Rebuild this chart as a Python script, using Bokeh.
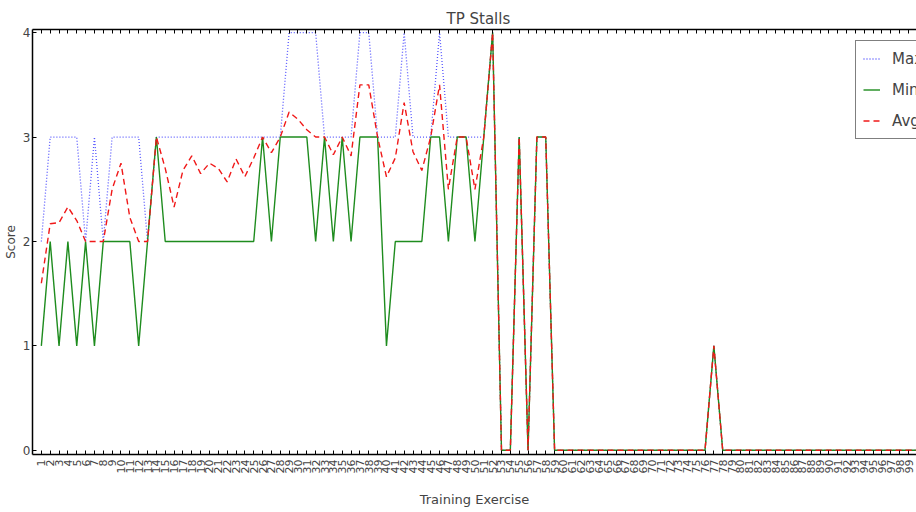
from bokeh.plotting import figure
from bokeh.models import (FixedTicker, LinearAxis, Range1d, Legend, LegendItem,
                          CustomLabelingPolicy)
from bokeh.embed import file_html
from bokeh.resources import INLINE
import math

exercise = list(range(1, 101))

max_score = [2, 3, 3, 3, 3, 2, 3, 2, 3, 3,
             3, 3, 2, 3, 3, 3, 3, 3, 3, 3,
             3, 3, 3, 3, 3, 3, 3, 3, 4, 4,
             4, 4, 3, 3, 3, 3, 4, 4, 3, 3,
             3, 4, 3, 3, 3, 4, 3, 3, 3, 3,
             3, 4, 0, 0, 3, 0, 3, 3, 0, 0,
             0, 0, 0, 0, 0, 0, 0, 0, 0, 0,
             0, 0, 0, 0, 0, 0, 1, 0, 0, 0,
             0, 0, 0, 0, 0, 0, 0, 0, 0, 0,
             0, 0, 0, 0, 0, 0, 0, 0, 0, 0]

min_score = [1, 2, 1, 2, 1, 2, 1, 2, 2, 2,
             2, 1, 2, 3, 2, 2, 2, 2, 2, 2,
             2, 2, 2, 2, 2, 3, 2, 3, 3, 3,
             3, 2, 3, 2, 3, 2, 3, 3, 3, 1,
             2, 2, 2, 2, 3, 3, 2, 3, 3, 2,
             3, 4, 0, 0, 3, 0, 3, 3, 0, 0,
             0, 0, 0, 0, 0, 0, 0, 0, 0, 0,
             0, 0, 0, 0, 0, 0, 1, 0, 0, 0,
             0, 0, 0, 0, 0, 0, 0, 0, 0, 0,
             0, 0, 0, 0, 0, 0, 0, 0, 0, 0]

avg_score = [1.6, 2.17, 2.18, 2.33, 2.2, 2.0, 2.0, 2.0, 2.5, 2.75,
             2.23, 2.0, 2.0, 3.0, 2.7, 2.33, 2.68, 2.82, 2.65, 2.75,
             2.7, 2.57, 2.79, 2.62, 2.8, 3.0, 2.85, 3.0, 3.24, 3.17,
             3.07, 3.0, 3.0, 2.83, 3.0, 2.82, 3.5, 3.5, 3.0, 2.62,
             2.8, 3.33, 2.86, 2.68, 3.0, 3.5, 2.5, 3.0, 3.0, 2.5,
             3.0, 4.0, 0, 0, 3.0, 0, 3.0, 3.0, 0, 0,
             0, 0, 0, 0, 0, 0, 0, 0, 0, 0,
             0, 0, 0, 0, 0, 0, 1.0, 0, 0, 0,
             0, 0, 0, 0, 0, 0, 0, 0, 0, 0,
             0, 0, 0, 0, 0, 0, 0, 0, 0, 0]

y_ticks = [0, 1, 2, 3, 4]

FONT = "DejaVu Sans"

p = figure(width=916, height=512, output_backend="svg", toolbar_location=None,
           x_range=Range1d(0, 99.9), y_range=Range1d(-0.04, 4.03),
           title="TP Stalls", min_border_left=25, min_border_right=0,
           min_border_top=29, min_border_bottom=58)
p.outline_line_color = None
p.background_fill_color = "white"
p.border_fill_color = "white"
p.grid.visible = False

p.title.align = "left"
p.title.offset = 414
p.title.text_font = FONT
p.title.text_font_size = "15px"
p.title.text_font_style = "normal"
p.title.standoff = 4

# bottom axis
xa = p.xaxis[0]
xa.ticker = FixedTicker(ticks=exercise)
xa.major_label_orientation = math.pi / 2
xa.major_label_text_font = FONT
xa.major_label_text_font_size = "11px"
xa.major_label_standoff = 5
xa.major_tick_in = 4
xa.major_tick_out = 0
xa.minor_tick_line_color = None
xa.axis_line_color = "black"
xa.axis_line_width = 1.5
xa.axis_label = "Training Exercise"
xa.axis_label_text_font = FONT
xa.axis_label_text_font_size = "13px"
xa.axis_label_text_font_style = "normal"
xa.axis_label_standoff = 16

# left axis
ya = p.yaxis[0]
ya.ticker = FixedTicker(ticks=y_ticks)
ya.major_label_text_font = FONT
ya.major_label_text_font_size = "12px"
ya.major_label_standoff = 2
ya.major_tick_in = 4
ya.major_tick_out = 0
ya.minor_tick_line_color = None
ya.axis_line_width = 1.5
ya.axis_label = "Score"
ya.axis_label_text_font = FONT
ya.axis_label_text_font_size = "12px"
ya.axis_label_text_font_style = "normal"
ya.axis_label_standoff = 2

# top axis (ticks only, no labels)
top = LinearAxis(ticker=FixedTicker(ticks=exercise), major_label_text_font_size="0px",
                 major_label_policy=CustomLabelingPolicy(code="return new Set()"),
                 major_label_standoff=0, major_tick_in=4, major_tick_out=0,
                 minor_tick_line_color=None, axis_line_width=1.5)
p.add_layout(top, "above")

r_max = p.line(exercise, max_score, line_color="#3a3aff", line_width=1.3,
               line_dash="1 2", line_alpha=0.85)
r_min = p.line(exercise, min_score, line_color="#1e8c1e", line_width=1.4)
r_avg = p.line(exercise, avg_score, line_color="#f01818", line_width=1.4,
               line_dash="6 4")

legend = Legend(items=[LegendItem(label="Max", renderers=[r_max]),
                       LegendItem(label="Min", renderers=[r_min]),
                       LegendItem(label="Avg", renderers=[r_avg])],
                location=(823, 315), padding=7, spacing=10, glyph_height=21,
                glyph_width=17, label_standoff=12, label_height=21,
                label_text_font=FONT, label_text_font_size="15px",
                border_line_color="black", border_line_width=1.2,
                background_fill_color="white", background_fill_alpha=1.0,
                margin=0)
p.add_layout(legend, "center")

open("out.html", "w").write(file_html(p, INLINE))
